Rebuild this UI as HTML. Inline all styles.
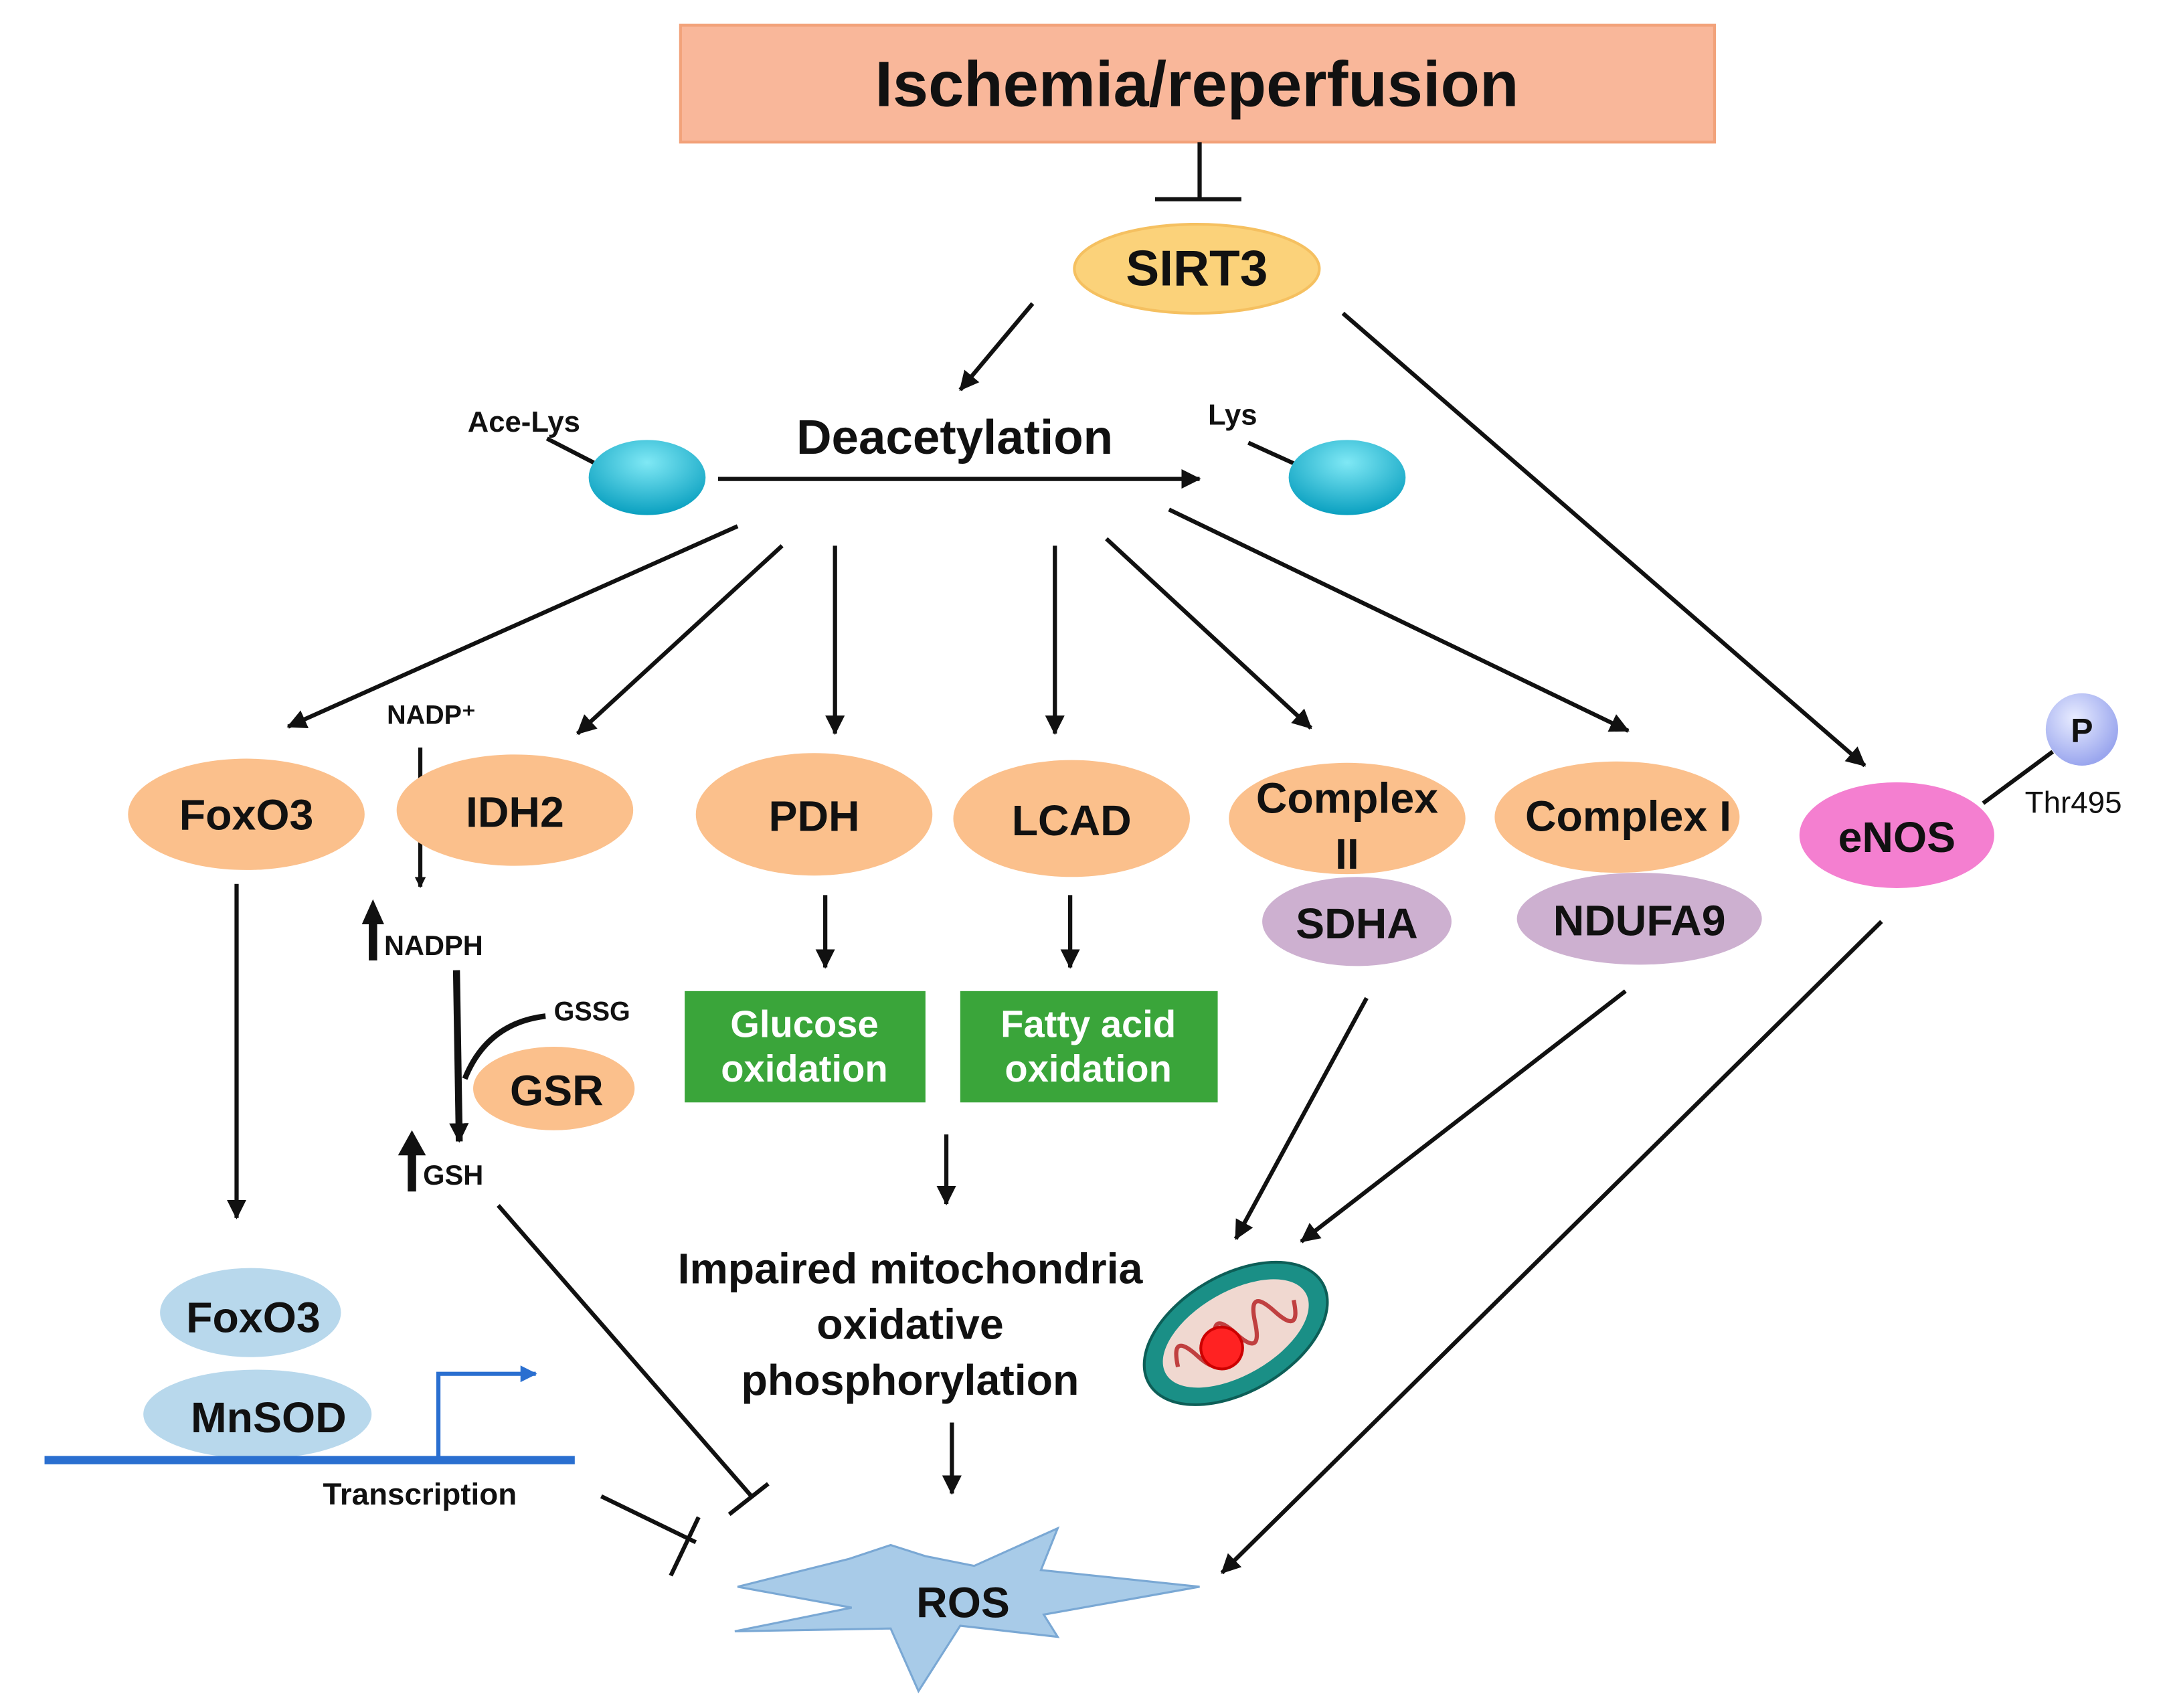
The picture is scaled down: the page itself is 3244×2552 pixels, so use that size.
<!DOCTYPE html>
<html><head><meta charset="utf-8"><style>
html,body{margin:0;padding:0;background:#fff}
svg{display:block}
text{font-family:"Liberation Sans",sans-serif;font-weight:bold;fill:#111}
</style></head><body>
<svg width="3244" height="2552" viewBox="0 0 1560 1227" xmlns="http://www.w3.org/2000/svg">
<defs>
<marker id="a" markerWidth="8" markerHeight="8" refX="7" refY="4" orient="auto" markerUnits="userSpaceOnUse"><path d="M0,0 L8,4 L0,8 Z" fill="#111"/></marker>
<marker id="b" markerWidth="14" markerHeight="14" refX="13" refY="7" orient="auto" markerUnits="userSpaceOnUse"><path d="M0,0 L14,7 L0,14 Z" fill="#111"/></marker>
<marker id="c" markerWidth="12" markerHeight="12" refX="11" refY="6" orient="auto" markerUnits="userSpaceOnUse"><path d="M0,0 L12,6 L0,12 Z" fill="#2a6fd0"/></marker>
<radialGradient id="teal" cx="50%" cy="30%" r="70%"><stop offset="0" stop-color="#7fe8f5"/><stop offset="1" stop-color="#0aa0c0"/></radialGradient>
<radialGradient id="pg" cx="40%" cy="35%" r="65%"><stop offset="0" stop-color="#e8ecff"/><stop offset="1" stop-color="#9aa6ee"/></radialGradient>
</defs>
<g stroke="#111" stroke-width="3" fill="none">
<rect x="489" y="18" width="743" height="84" fill="#f9b79a" stroke="#f2a27a" stroke-width="2"/>
<line x1="862" y1="102" x2="862" y2="143"/><line x1="830" y1="143" x2="892" y2="143"/>
<line x1="742" y1="218" x2="690" y2="280" marker-end="url(#b)"/>
<line x1="965" y1="225" x2="1340" y2="550" marker-end="url(#b)"/>
<line x1="393" y1="315" x2="428" y2="333"/>
<line x1="897" y1="318" x2="930" y2="333"/>
<line x1="516" y1="344" x2="862" y2="344" marker-end="url(#b)"/>
<line x1="530" y1="378" x2="207" y2="522" marker-end="url(#b)"/>
<line x1="562" y1="392" x2="415" y2="527" marker-end="url(#b)"/>
<line x1="600" y1="392" x2="600" y2="527" marker-end="url(#b)"/>
<line x1="758" y1="392" x2="758" y2="527" marker-end="url(#b)"/>
<line x1="795" y1="387" x2="942" y2="523" marker-end="url(#b)"/>
<line x1="840" y1="366" x2="1170" y2="525" marker-end="url(#b)"/>
<line x1="1425" y1="577" x2="1475" y2="540"/>
<line x1="170" y1="635" x2="170" y2="875" marker-end="url(#b)"/>
<line x1="302" y1="537" x2="302" y2="637" marker-end="url(#a)"/>
<line x1="328" y1="697" x2="330" y2="820" stroke-width="5" marker-end="url(#b)"/>
<path d="M334,775 Q350,735 392,730" stroke-width="4"/>
<line x1="358" y1="866" x2="540" y2="1075"/><line x1="524" y1="1088" x2="552" y2="1066"/>
<line x1="593" y1="643" x2="593" y2="695" marker-end="url(#b)"/>
<line x1="769" y1="643" x2="769" y2="695" marker-end="url(#b)"/>
<line x1="680" y1="815" x2="680" y2="865" marker-end="url(#b)"/>
<line x1="684" y1="1022" x2="684" y2="1073" marker-end="url(#b)"/>
<line x1="982" y1="717" x2="888" y2="890" marker-end="url(#b)"/>
<line x1="1168" y1="712" x2="935" y2="892" marker-end="url(#b)"/>
<line x1="1352" y1="662" x2="878" y2="1130" marker-end="url(#b)"/>
<line x1="432" y1="1075" x2="500" y2="1108"/><line x1="482" y1="1132" x2="502" y2="1090"/>
</g>
<g stroke="none" fill="#111">
<path d="M286,830 L296,812 L306,830 Z"/><rect x="293" y="828" width="6" height="28"/>
<path d="M260,664 L268,646 L276,664 Z"/><rect x="265" y="662" width="6" height="28"/>
</g>
<text x="860" y="76" font-size="46" text-anchor="middle">Ischemia/reperfusion</text>
<ellipse cx="860" cy="193" rx="88" ry="32" fill="#fbd27a" stroke="#f5c060" stroke-width="2"/>
<text x="860" y="205" font-size="36" text-anchor="middle">SIRT3</text>
<text x="686" y="326" font-size="35" text-anchor="middle">Deacetylation</text>
<text x="336" y="310" font-size="21">Ace-Lys</text>
<text x="868" y="305" font-size="21">Lys</text>
<ellipse cx="465" cy="343" rx="42" ry="27" fill="url(#teal)"/>
<ellipse cx="968" cy="343" rx="42" ry="27" fill="url(#teal)"/>
<g fill="#fbc08c">
<ellipse cx="177" cy="585" rx="85" ry="40"/>
<ellipse cx="370" cy="582" rx="85" ry="40"/>
<ellipse cx="585" cy="585" rx="85" ry="44"/>
<ellipse cx="770" cy="588" rx="85" ry="42"/>
<ellipse cx="968" cy="588" rx="85" ry="40"/>
<ellipse cx="1162" cy="587" rx="88" ry="40"/>
<ellipse cx="398" cy="782" rx="58" ry="30"/>
</g>
<ellipse cx="975" cy="662" rx="68" ry="32" fill="#cdb0d0"/>
<ellipse cx="1178" cy="660" rx="88" ry="33" fill="#cdb0d0"/>
<ellipse cx="1363" cy="600" rx="70" ry="38" fill="#f47fd0"/>
<circle cx="1496" cy="524" r="26" fill="url(#pg)"/>
<text x="1496" y="533" font-size="24" text-anchor="middle">P</text>
<text x="1455" y="584" font-size="22" style="font-weight:normal">Thr495</text>
<text x="177" y="596" font-size="31" text-anchor="middle">FoxO3</text>
<text x="370" y="594" font-size="31" text-anchor="middle">IDH2</text>
<text x="585" y="597" font-size="31" text-anchor="middle">PDH</text>
<text x="770" y="600" font-size="31" text-anchor="middle">LCAD</text>
<text x="968" y="584" font-size="31" text-anchor="middle">Complex</text>
<text x="968" y="624" font-size="31" text-anchor="middle">II</text>
<text x="1170" y="597" font-size="31" text-anchor="middle">Complex I</text>
<text x="1363" y="612" font-size="31" text-anchor="middle">eNOS</text>
<text x="975" y="674" font-size="31" text-anchor="middle">SDHA</text>
<text x="1178" y="672" font-size="31" text-anchor="middle">NDUFA9</text>
<text x="400" y="794" font-size="31" text-anchor="middle">GSR</text>
<text x="278" y="520" font-size="19">NADP⁺</text>
<text x="276" y="686" font-size="20">NADPH</text>
<text x="398" y="733" font-size="19">GSSG</text>
<text x="304" y="851" font-size="20">GSH</text>
<rect x="492" y="712" width="173" height="80" fill="#3aa53a"/>
<rect x="690" y="712" width="185" height="80" fill="#3aa53a"/>
<g font-size="27" text-anchor="middle">
<text x="578" y="745" style="fill:#fff">Glucose</text>
<text x="578" y="777" style="fill:#fff">oxidation</text>
<text x="782" y="745" style="fill:#fff">Fatty acid</text>
<text x="782" y="777" style="fill:#fff">oxidation</text>
</g>
<text x="654" y="922" font-size="31" text-anchor="middle">Impaired mitochondria</text>
<text x="654" y="962" font-size="31" text-anchor="middle">oxidative</text>
<text x="654" y="1002" font-size="31" text-anchor="middle">phosphorylation</text>
<g transform="translate(888,958) rotate(-30)">
<ellipse cx="0" cy="0" rx="72" ry="42" fill="#1a8f86" stroke="#0d5e57" stroke-width="2"/>
<ellipse cx="0" cy="0" rx="58" ry="30" fill="#f0d8d0"/>
<path d="M-48,0 Q-40,-25 -32,0 Q-24,25 -16,0 Q-8,-25 0,0 Q8,25 16,0 Q24,-25 32,0 Q40,25 48,0" stroke="#c04040" stroke-width="3" fill="none"/>
<circle cx="-14" cy="4" r="15" fill="#f22" stroke="#c00" stroke-width="2"/>
</g>
<ellipse cx="180" cy="943" rx="65" ry="32" fill="#b8d8ec"/>
<ellipse cx="185" cy="1016" rx="82" ry="32" fill="#b8d8ec"/>
<text x="182" y="957" font-size="31" text-anchor="middle">FoxO3</text>
<text x="193" y="1029" font-size="31" text-anchor="middle">MnSOD</text>
<line x1="32" y1="1049" x2="413" y2="1049" stroke="#2a6fd0" stroke-width="6"/>
<path d="M315,1049 L315,987 L385,987" stroke="#2a6fd0" stroke-width="3" fill="none" marker-end="url(#c)"/>
<text x="232" y="1081" font-size="22">Transcription</text>
<polygon points="530,1140 610,1120 640,1110 665,1118 700,1125 760,1098 748,1128 862,1140 750,1160 760,1176 690,1168 660,1215 640,1170 528,1172 612,1155" fill="#a8cbe8" stroke="#7aa8d4" stroke-width="1.5"/>
<text x="692" y="1162" font-size="31" text-anchor="middle">ROS</text>
</svg>
</body></html>
